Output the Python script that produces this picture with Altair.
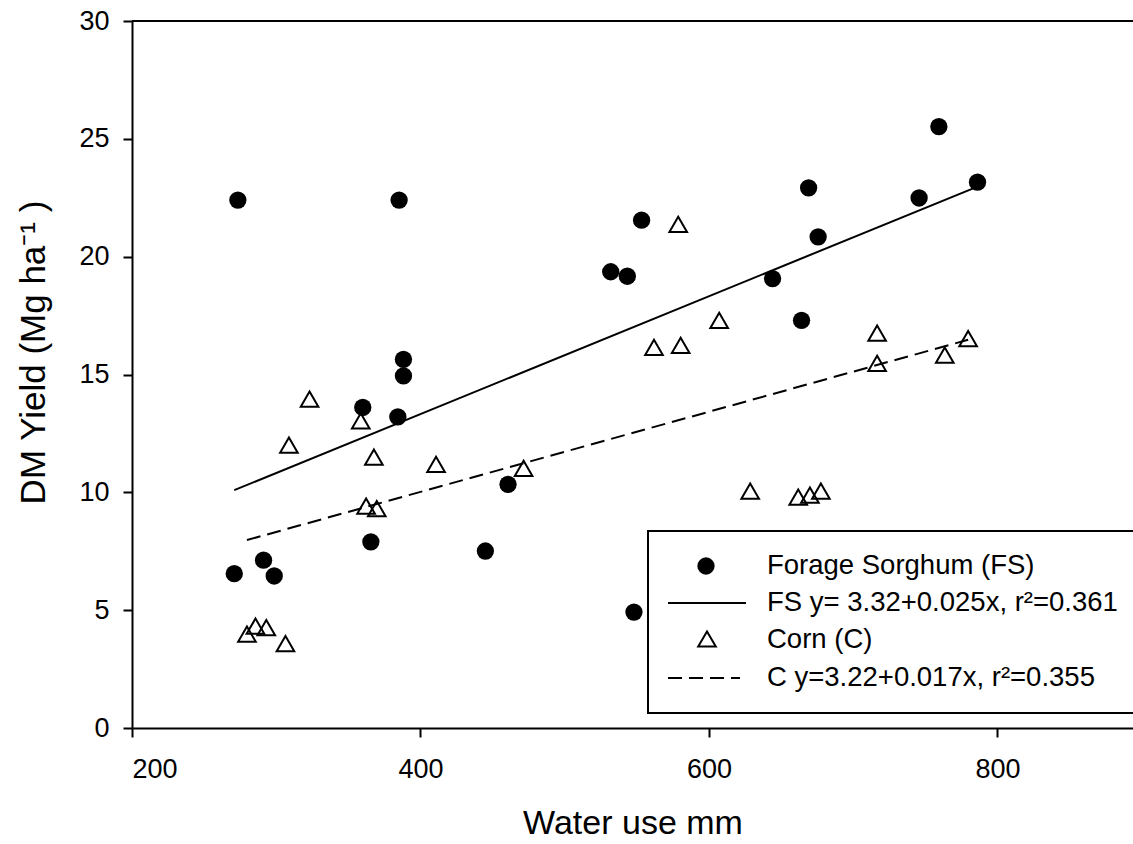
import altair as alt
import pandas as pd

# Forage sorghum (FS): water use (mm), DM yield (Mg/ha)
fs_x = [273.4, 385.2, 553.3, 531.9, 543.4, 669.1, 675.7, 644.1, 664.2, 388.2,
        388.2, 360.0, 384.3, 460.7, 365.6, 445.0, 291.2, 270.9, 298.6, 548.0,
        759.4, 745.7, 786.2]
fs_y = [22.40, 22.40, 21.55, 19.36, 19.17, 22.92, 20.84, 19.07, 17.30, 15.64,
        14.94, 13.60, 13.20, 10.34, 7.90, 7.51, 7.12, 6.55, 6.45, 4.92,
        25.52, 22.49, 23.16]

# Corn (C)
c_x = [578.7, 607.1, 716.6, 561.9, 580.4, 716.6, 323.1, 358.6, 308.8, 367.7,
       410.8, 471.5, 362.3, 369.7, 628.6, 661.9, 670.0, 677.6, 279.7, 285.6,
       293.1, 306.4, 763.5, 779.7]
c_y = [21.37, 17.30, 16.76, 16.15, 16.24, 15.47, 13.95, 13.03, 12.00, 11.49,
       11.19, 11.02, 9.42, 9.31, 10.05, 9.80, 9.88, 10.05, 3.98, 4.32,
       4.26, 3.58, 15.82, 16.52]

# regression coefficients (from legend)
fs_coef = [3.32, 0.025]
c_coef = [3.22, 0.017]

x_ticks = [200, 400, 600, 800]
y_ticks = [0, 5, 10, 15, 20, 25, 30]

legend_labels = ["Forage Sorghum (FS)",
                 "FS y= 3.32+0.025x, r\u00b2=0.361",
                 "Corn (C)",
                 "C y=3.22+0.017x, r\u00b2=0.355"]

FONT = "Liberation Sans"
W, H = 1001, 707

fs_df = pd.DataFrame({"x": fs_x, "y": fs_y})
c_df = pd.DataFrame({"x": c_x, "y": c_y})
fs_line = pd.DataFrame({"x": [min(fs_x), max(fs_x)]})
fs_line["y"] = fs_coef[0] + fs_coef[1] * fs_line["x"]
c_line = pd.DataFrame({"x": [min(c_x), max(c_x)]})
c_line["y"] = c_coef[0] + c_coef[1] * c_line["x"]

xs = alt.Scale(domain=[200, 894], nice=False, zero=False)
ys = alt.Scale(domain=[0, 30], nice=False)

xax = alt.Axis(values=x_ticks, title="Water use mm", grid=False, tickSize=9,
               labelPadding=19, titlePadding=24, titleFontSize=34)
yax = alt.Axis(values=y_ticks, title="DM Yield (Mg ha\u207b\u00b9 )", grid=False,
               tickSize=9, labelPadding=14, titlePadding=27, titleY=331,
               titleFontSize=35)

fs_pts = alt.Chart(fs_df).mark_point(shape="circle", filled=True, color="black",
                                     size=300, opacity=1).encode(
    x=alt.X("x:Q", scale=xs, axis=xax),
    y=alt.Y("y:Q", scale=ys, axis=yax))

c_pts = alt.Chart(c_df).mark_point(shape="triangle-up", filled=False, color="black",
                                   size=310, strokeWidth=2, opacity=1).encode(
    x=alt.X("x:Q", scale=xs), y=alt.Y("y:Q", scale=ys))

fs_ln = alt.Chart(fs_line).mark_line(color="black", strokeWidth=2).encode(
    x=alt.X("x:Q", scale=xs), y=alt.Y("y:Q", scale=ys))
c_ln = alt.Chart(c_line).mark_line(color="black", strokeWidth=2,
                                    strokeDash=[14, 7]).encode(
    x=alt.X("x:Q", scale=xs), y=alt.Y("y:Q", scale=ys))

top = alt.Chart(pd.DataFrame({"y": [30]})).mark_rule(color="black", strokeWidth=2).encode(
    y=alt.Y("y:Q", scale=ys))

# legend (drawn manually)
box = alt.Chart(pd.DataFrame({"a": [0]})).mark_rect(
    fill="white", stroke="black", strokeWidth=2).encode(
    x=alt.value(516), x2=alt.value(1012), y=alt.value(510), y2=alt.value(692))

lg_dot = alt.Chart(pd.DataFrame({"a": [0]})).mark_point(
    shape="circle", filled=True, color="black", size=300, opacity=1).encode(
    x=alt.value(574), y=alt.value(545))
lg_tri = alt.Chart(pd.DataFrame({"a": [0]})).mark_point(
    shape="triangle-up", filled=False, color="black", size=310, strokeWidth=2,
    opacity=1).encode(x=alt.value(575), y=alt.value(618))
lg_l1 = alt.Chart(pd.DataFrame({"a": [0]})).mark_rule(color="black", strokeWidth=2).encode(
    x=alt.value(536), x2=alt.value(614), y=alt.value(582))
lg_l2 = alt.Chart(pd.DataFrame({"a": [0]})).mark_rule(
    color="black", strokeWidth=2, strokeDash=[14, 7]).encode(
    x=alt.value(536), x2=alt.value(608), y=alt.value(657))

txt_df = pd.DataFrame({"t": legend_labels, "py": [545, 582, 619, 657]})
lg_txt = alt.Chart(txt_df).mark_text(
    align="left", baseline="middle", font=FONT, fontSize=27.5, color="black").encode(
    x=alt.value(635), y=alt.Y("py:Q", scale=None), text="t:N")

chart = alt.layer(top, c_ln, fs_ln, c_pts, fs_pts, box, lg_dot, lg_tri, lg_l1, lg_l2,
                  lg_txt).properties(
    width=W, height=H,
    autosize=alt.AutoSizeParams(type="none"),
    padding={"left": 132, "top": 21, "right": 0, "bottom": 116},
).configure_view(stroke=None).configure_axis(
    labelFont=FONT, titleFont=FONT, labelFontSize=27,
    titleFontWeight="normal", labelColor="black", titleColor="black",
    domainColor="black", tickColor="black", domainWidth=2, tickWidth=2,
)

chart.save("out.html", embed_options={"renderer": "svg", "actions": False})
